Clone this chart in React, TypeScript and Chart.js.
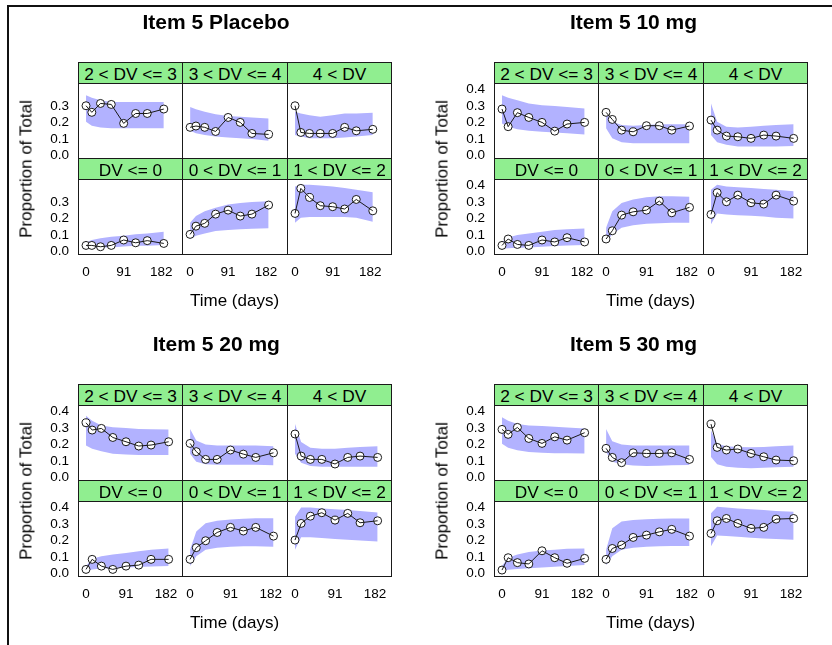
import React, { useEffect, useRef } from 'react';
import { Chart, registerables } from 'chart.js';

Chart.register(...registerables);

// ---------------- data ----------------
const TIMES = [0, 14, 35, 61, 91, 120, 148, 188];
const CATEGORIES = ['DV <= 0', '0 < DV <= 1', '1 < DV <= 2', '2 < DV <= 3', '3 < DV <= 4', '4 < DV'];
const TREATMENTS = ['Item 5 Placebo', 'Item 5 10 mg', 'Item 5 20 mg', 'Item 5 30 mg'];
const X_TICKS = [0, 91, 182];
const Y_TICKS_PLACEBO = [0, 0.1, 0.2, 0.3];
const Y_TICKS_ACTIVE = [0, 0.1, 0.2, 0.3, 0.4];
const X_TITLE = 'Time (days)';
const Y_TITLE = 'Proportion of Total';

// rows follow CATEGORIES order
const placeboObs = [
  [0.032, 0.032, 0.024, 0.032, 0.065, 0.048, 0.061, 0.044],
  [0.099, 0.149, 0.166, 0.222, 0.246, 0.21, 0.222, 0.277],
  [0.226, 0.378, 0.323, 0.273, 0.267, 0.253, 0.311, 0.242],
  [0.297, 0.257, 0.311, 0.305, 0.19, 0.25, 0.25, 0.277],
  [0.166, 0.174, 0.166, 0.141, 0.226, 0.196, 0.129, 0.123],
  [0.297, 0.135, 0.129, 0.129, 0.129, 0.166, 0.145, 0.154],
];
const placeboLo = [
  [0.015, 0.015, 0.02, 0.02, 0.025, 0.03, 0.03, 0.035],
  [0.07, 0.09, 0.105, 0.12, 0.125, 0.13, 0.133, 0.136],
  [0.17, 0.2, 0.205, 0.205, 0.205, 0.205, 0.2, 0.175],
  [0.2, 0.175, 0.165, 0.16, 0.16, 0.16, 0.16, 0.16],
  [0.145, 0.13, 0.12, 0.11, 0.105, 0.1, 0.095, 0.085],
  [0.12, 0.11, 0.1, 0.1, 0.1, 0.105, 0.11, 0.12],
];
const placeboHi = [
  [0.05, 0.065, 0.075, 0.085, 0.09, 0.1, 0.105, 0.115],
  [0.17, 0.21, 0.24, 0.26, 0.28, 0.29, 0.295, 0.3],
  [0.39, 0.4, 0.4, 0.395, 0.39, 0.38, 0.37, 0.355],
  [0.36, 0.345, 0.33, 0.32, 0.32, 0.32, 0.32, 0.32],
  [0.29, 0.275, 0.26, 0.245, 0.235, 0.23, 0.225, 0.22],
  [0.26, 0.25, 0.24, 0.23, 0.24, 0.25, 0.25, 0.255],
];

const mg10Obs = [
  [0.032, 0.071, 0.038, 0.032, 0.065, 0.053, 0.079, 0.053],
  [0.071, 0.121, 0.216, 0.236, 0.246, 0.301, 0.23, 0.263],
  [0.22, 0.352, 0.297, 0.337, 0.291, 0.283, 0.337, 0.301],
  [0.277, 0.17, 0.255, 0.226, 0.196, 0.143, 0.186, 0.196],
  [0.257, 0.214, 0.149, 0.139, 0.176, 0.176, 0.149, 0.174],
  [0.21, 0.149, 0.113, 0.109, 0.099, 0.119, 0.113, 0.099],
];
const mg10Lo = [
  [0.012, 0.015, 0.018, 0.02, 0.024, 0.028, 0.032, 0.034],
  [0.05, 0.1, 0.14, 0.155, 0.163, 0.167, 0.17, 0.17],
  [0.16, 0.225, 0.22, 0.215, 0.212, 0.208, 0.2, 0.196],
  [0.19, 0.17, 0.155, 0.145, 0.14, 0.135, 0.13, 0.123],
  [0.16, 0.1, 0.075, 0.07, 0.07, 0.07, 0.07, 0.07],
  [0.12, 0.075, 0.06, 0.05, 0.05, 0.05, 0.05, 0.053],
];
const mg10Hi = [
  [0.055, 0.08, 0.095, 0.105, 0.115, 0.125, 0.13, 0.135],
  [0.14, 0.24, 0.29, 0.31, 0.325, 0.33, 0.33, 0.327],
  [0.37, 0.4, 0.39, 0.385, 0.38, 0.375, 0.37, 0.36],
  [0.36, 0.345, 0.33, 0.31, 0.3, 0.295, 0.29, 0.28],
  [0.26, 0.2, 0.18, 0.175, 0.18, 0.185, 0.185, 0.185],
  [0.31, 0.2, 0.17, 0.165, 0.17, 0.175, 0.18, 0.185],
];

const mg20Obs = [
  [0.02, 0.081, 0.04, 0.02, 0.04, 0.046, 0.081, 0.081],
  [0.081, 0.152, 0.194, 0.244, 0.275, 0.253, 0.275, 0.222],
  [0.198, 0.299, 0.343, 0.364, 0.319, 0.36, 0.303, 0.315],
  [0.327, 0.283, 0.293, 0.238, 0.212, 0.186, 0.192, 0.212],
  [0.202, 0.152, 0.105, 0.105, 0.162, 0.137, 0.117, 0.145],
  [0.259, 0.125, 0.105, 0.105, 0.077, 0.117, 0.125, 0.117],
];
const mg20Lo = [
  [0.01, 0.02, 0.025, 0.028, 0.032, 0.035, 0.038, 0.04],
  [0.04, 0.1, 0.14, 0.152, 0.158, 0.16, 0.16, 0.158],
  [0.14, 0.215, 0.215, 0.21, 0.205, 0.2, 0.195, 0.19],
  [0.19, 0.17, 0.155, 0.14, 0.135, 0.131, 0.131, 0.131],
  [0.14, 0.09, 0.075, 0.072, 0.072, 0.072, 0.072, 0.07],
  [0.14, 0.085, 0.065, 0.06, 0.06, 0.06, 0.06, 0.06],
];
const mg20Hi = [
  [0.04, 0.085, 0.1, 0.11, 0.12, 0.13, 0.14, 0.147],
  [0.14, 0.25, 0.3, 0.315, 0.323, 0.327, 0.33, 0.33],
  [0.34, 0.395, 0.395, 0.39, 0.385, 0.38, 0.375, 0.365],
  [0.37, 0.34, 0.31, 0.3, 0.295, 0.29, 0.288, 0.287],
  [0.29, 0.22, 0.195, 0.19, 0.19, 0.19, 0.19, 0.185],
  [0.32, 0.21, 0.175, 0.17, 0.17, 0.175, 0.18, 0.185],
];

const mg30Obs = [
  [0.016, 0.091, 0.061, 0.053, 0.133, 0.091, 0.057, 0.087],
  [0.081, 0.147, 0.168, 0.214, 0.228, 0.248, 0.263, 0.222],
  [0.238, 0.315, 0.329, 0.299, 0.269, 0.275, 0.325, 0.329],
  [0.287, 0.257, 0.299, 0.232, 0.202, 0.242, 0.222, 0.267],
  [0.172, 0.117, 0.085, 0.145, 0.141, 0.141, 0.145, 0.105],
  [0.319, 0.178, 0.162, 0.168, 0.141, 0.121, 0.101, 0.097],
];
const mg30Lo = [
  [0.01, 0.018, 0.022, 0.027, 0.032, 0.036, 0.04, 0.046],
  [0.045, 0.1, 0.14, 0.152, 0.157, 0.16, 0.162, 0.162],
  [0.16, 0.225, 0.222, 0.218, 0.212, 0.208, 0.205, 0.2],
  [0.2, 0.175, 0.16, 0.15, 0.145, 0.143, 0.142, 0.141],
  [0.15, 0.09, 0.075, 0.068, 0.065, 0.067, 0.07, 0.071],
  [0.12, 0.075, 0.06, 0.055, 0.052, 0.055, 0.058, 0.061],
];
const mg30Hi = [
  [0.04, 0.09, 0.11, 0.125, 0.135, 0.14, 0.145, 0.147],
  [0.14, 0.27, 0.31, 0.32, 0.325, 0.328, 0.329, 0.329],
  [0.36, 0.4, 0.395, 0.39, 0.385, 0.38, 0.375, 0.37],
  [0.36, 0.34, 0.32, 0.31, 0.307, 0.303, 0.298, 0.293],
  [0.29, 0.215, 0.195, 0.19, 0.19, 0.19, 0.19, 0.19],
  [0.28, 0.2, 0.185, 0.18, 0.178, 0.18, 0.185, 0.19],
];

// ---------------- styling / layout ----------------
const FONT = '"Liberation Sans", Arial, Helvetica, sans-serif';
const BAND_COLOR = 'rgb(178,178,255)';
const STRIP_COLOR = '#90EE90';
const LINE_COLOR = '#1a1a1a';

const COL_X = [78, 182, 287, 391];
const ROW_TOP = [62, 158];
const STRIP_H = 21;
const PANEL_H = 75;
const M = 12;
const YW = 45;
const XH = 32;
const Y_MIN = -0.02;
const Y_MAX = 0.435;

const QUADS = [
  { title: TREATMENTS[0], dx: 0, dy: 0, titleX: 216, obs: placeboObs, lo: placeboLo, hi: placeboHi, xMin: -19.4, xMax: 232, yTicks: Y_TICKS_PLACEBO },
  { title: TREATMENTS[1], dx: 416, dy: 0, titleX: 217.5, obs: mg10Obs, lo: mg10Lo, hi: mg10Hi, xMin: -18.2, xMax: 218.4, yTicks: Y_TICKS_ACTIVE },
  { title: TREATMENTS[2], dx: 0, dy: 322, titleX: 216.3, obs: mg20Obs, lo: mg20Lo, hi: mg20Hi, xMin: -18.2, xMax: 218.4, yTicks: Y_TICKS_ACTIVE },
  { title: TREATMENTS[3], dx: 416, dy: 322, titleX: 217.5, obs: mg30Obs, lo: mg30Lo, hi: mg30Hi, xMin: -18.2, xMax: 218.4, yTicks: Y_TICKS_ACTIVE },
];

const toPts = (vals: number[]) => vals.map((v, i) => ({ x: TIMES[i], y: v }));

type SubProps = {
  left: number; top: number; width: number; height: number;
  showX: boolean; showY: boolean;
  obs: number[]; lo: number[]; hi: number[];
  xMin: number; xMax: number; yTicks: number[];
};

function SubPlot(p: SubProps) {
  const ref = useRef<HTMLCanvasElement | null>(null);
  const cw = p.width + 2 * M + (p.showY ? YW : 0);
  const ch = p.height + 2 * M + (p.showX ? XH : 0);
  useEffect(() => {
    if (!ref.current) return;
    const tickFont = { family: FONT, size: 13.5 };
    const chart = new Chart(ref.current, {
      type: 'line',
      data: {
        datasets: [
          { data: toPts(p.obs), borderColor: LINE_COLOR, borderWidth: 1, pointRadius: 0, fill: false, order: 0 },
          {
            data: toPts(p.obs), showLine: false, pointRadius: 4, pointBackgroundColor: '#ffffff',
            pointBorderColor: LINE_COLOR, pointBorderWidth: 1, borderColor: LINE_COLOR, fill: false, order: 1,
          },
          { data: toPts(p.hi), borderColor: 'transparent', borderWidth: 0, pointRadius: 0, backgroundColor: BAND_COLOR, fill: '+1', order: 2 },
          { data: toPts(p.lo), borderColor: 'transparent', borderWidth: 0, pointRadius: 0, fill: false, order: 3 },
        ],
      } as any,
      options: {
        responsive: false,
        animation: false,
        devicePixelRatio: 1,
        events: [],
        layout: { padding: { left: M, right: M, top: M, bottom: M } },
        plugins: { legend: { display: false }, tooltip: { enabled: false }, title: { display: false } },
        scales: {
          x: {
            type: 'linear', min: p.xMin, max: p.xMax, display: p.showX,
            grid: { display: false, drawTicks: false }, border: { display: false },
            ticks: { font: tickFont, color: '#000', padding: 10, maxRotation: 0, autoSkip: false, callback: (v: any) => String(v) },
            afterBuildTicks: (s: any) => { s.ticks = X_TICKS.map((v) => ({ value: v })); },
            afterFit: (s: any) => { if (p.showX) { s.height = XH; } s.paddingLeft = 0; s.paddingRight = 0; },
          },
          y: {
            type: 'linear', min: Y_MIN, max: Y_MAX, display: p.showY,
            grid: { display: false, drawTicks: false }, border: { display: false },
            ticks: { font: tickFont, color: '#000', padding: 9, labelOffset: 1, autoSkip: false, callback: (v: any) => Number(v).toFixed(1) },
            afterBuildTicks: (s: any) => { s.ticks = p.yTicks.map((v) => ({ value: v })); },
            afterFit: (s: any) => { if (p.showY) { s.width = YW; } s.paddingTop = 0; s.paddingBottom = 0; },
          },
        },
      } as any,
    });
    return () => chart.destroy();
  }, []);
  return (
    <canvas
      ref={ref}
      width={cw}
      height={ch}
      style={{ position: 'absolute', left: p.left - M - (p.showY ? YW : 0), top: p.top - M, width: cw, height: ch }}
    />
  );
}

function Quadrant({ q }: { q: typeof QUADS[number] }) {
  const plots: React.ReactNode[] = [];
  const frames: React.ReactNode[] = [];
  for (let r = 0; r < 2; r++) {
    for (let c = 0; c < 3; c++) {
      const idx = (r === 0 ? 3 : 0) + c;
      const left = q.dx + COL_X[c];
      const width = COL_X[c + 1] - COL_X[c];
      const stripTop = q.dy + ROW_TOP[r];
      const panelTop = stripTop + STRIP_H;
      plots.push(
        <SubPlot
          key={`p${r}${c}`}
          left={left} top={panelTop} width={width} height={PANEL_H}
          showX={r === 1} showY={c === 0}
          obs={q.obs[idx]} lo={q.lo[idx]} hi={q.hi[idx]}
          xMin={q.xMin} xMax={q.xMax} yTicks={q.yTicks}
        />
      );
      frames.push(
        <div key={`s${r}${c}`} style={{
          position: 'absolute', left, top: stripTop, width: width + 1, height: STRIP_H + 1,
          boxSizing: 'border-box', border: `1px solid ${LINE_COLOR}`, background: STRIP_COLOR,
          fontFamily: FONT, fontSize: 17.3, lineHeight: `${STRIP_H}px`, textAlign: 'center',
          whiteSpace: 'nowrap', color: '#000', paddingTop: 1, overflow: 'hidden',
        }}>{CATEGORIES[idx]}</div>
      );
      frames.push(
        <div key={`f${r}${c}`} style={{
          position: 'absolute', left, top: panelTop, width: width + 1, height: PANEL_H + 1,
          boxSizing: 'border-box', border: `1px solid ${LINE_COLOR}`, pointerEvents: 'none',
        }} />
      );
    }
  }
  const textBase: React.CSSProperties = {
    position: 'absolute', whiteSpace: 'nowrap', fontFamily: FONT, color: '#000', lineHeight: 1,
  };
  return (
    <>
      {plots}
      {frames}
      <div style={{ ...textBase, left: q.dx + q.titleX, top: q.dy + 20.6, fontSize: 21, fontWeight: 'bold', transform: 'translate(-50%, -50%)' }}>{q.title}</div>
      <div style={{ ...textBase, left: q.dx + 234.5, top: q.dy + 299.7, fontSize: 17, transform: 'translate(-50%, -50%)' }}>{X_TITLE}</div>
      <div style={{ ...textBase, left: q.dx + 26, top: q.dy + 168.7, fontSize: 17, transform: 'translate(-50%, -50%) rotate(-90deg)' }}>{Y_TITLE}</div>
    </>
  );
}

export default function App() {
  return (
    <div style={{ position: 'absolute', left: 0, top: 0, width: 832, height: 645, overflow: 'hidden', background: '#fff' }}>
      <div style={{ position: 'absolute', left: 7, top: 5, width: 900, height: 700, borderTop: '2px solid #111', borderLeft: '2px solid #111' }} />
      {QUADS.map((q, i) => <Quadrant key={i} q={q} />)}
    </div>
  );
}
